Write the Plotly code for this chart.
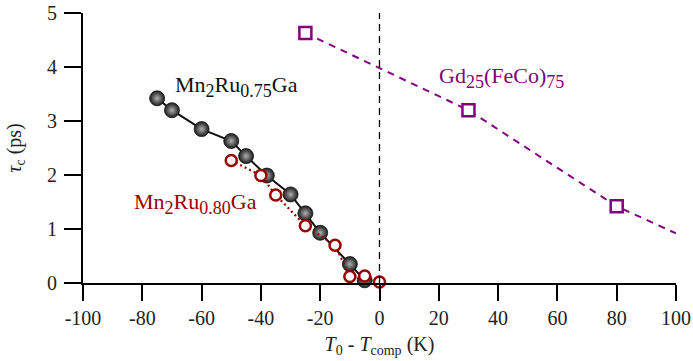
import plotly.graph_objects as go

# Mn2Ru0.75Ga (black spheres)
x_075 = [-75, -70, -60, -50, -45, -38, -30, -25, -20, -10, -5]
y_075 = [3.42, 3.20, 2.85, 2.63, 2.35, 1.99, 1.64, 1.29, 0.93, 0.35, 0.05]

# Mn2Ru0.80Ga (red open circles)
x_080 = [-50, -40, -35, -25, -15, -10, -5, 0]
y_080 = [2.27, 1.99, 1.63, 1.06, 0.70, 0.12, 0.13, 0.02]

# Gd25(FeCo)75 (purple squares)
x_gd = [-25, 30, 80]
y_gd = [4.63, 3.20, 1.42]
# dashed guide line through the squares, extended to the edge
x_gd_line = [-25, 30, 80, 100]
y_gd_line = [4.63, 3.20, 1.42, 0.92]

x_ticks = [-100, -80, -60, -40, -20, 0, 20, 40, 60, 80, 100]
y_ticks = [0, 1, 2, 3, 4, 5]

BLACK = "#111111"
RED = "#990000"
PURPLE = "#800080"
FONT = "'Liberation Serif', 'Times New Roman', Times, 'DejaVu Serif', serif"


def sub(s, px=18):
    return "<sub><span style='font-size:%dpx'>%s</span></sub>" % (px, s)


fig = go.Figure()

# vertical dashed line at compensation
fig.add_shape(type="line", x0=0, x1=0, y0=0, y1=5, xref="x", yref="y",
              line=dict(color="black", width=1.3, dash="7px,5px"))

fig.add_trace(go.Scatter(x=x_gd_line, y=y_gd_line, mode="lines",
                         line=dict(color=PURPLE, width=2, dash="7px,6px"),
                         hoverinfo="skip", showlegend=False, cliponaxis=False))
fig.add_trace(go.Scatter(x=x_gd, y=y_gd, mode="markers",
                         marker=dict(symbol="square", size=12, color="white",
                                     line=dict(color=PURPLE, width=2.5)),
                         showlegend=False, cliponaxis=False))

fig.add_trace(go.Scatter(x=x_075, y=y_075, mode="lines+markers",
                         line=dict(color=BLACK, width=2),
                         marker=dict(symbol="circle", size=15, color="#1a1a1a",
                                     gradient=dict(type="radial", color="#b0b0b0"),
                                     line=dict(color="#111111", width=0.8)),
                         showlegend=False, cliponaxis=False))

fig.add_trace(go.Scatter(x=x_080, y=y_080, mode="lines+markers",
                         line=dict(color=RED, width=2.2, dash="2px,3px"),
                         marker=dict(symbol="circle", size=11, color="white",
                                     line=dict(color=RED, width=2.5)),
                         showlegend=False, cliponaxis=False))

fig.add_annotation(x=-69.6, y=3.64, xref="x", yref="y", xanchor="left", yanchor="middle",
                   text="Mn" + sub("2") + "Ru" + sub("0.75") + "Ga", showarrow=False,
                   font=dict(family=FONT, size=22, color=BLACK))
fig.add_annotation(x=-83.6, y=1.47, xref="x", yref="y", xanchor="left", yanchor="middle",
                   text="Mn" + sub("2") + "Ru" + sub("0.80") + "Ga", showarrow=False,
                   font=dict(family=FONT, size=22, color=RED))
fig.add_annotation(x=19.3, y=3.8, xref="x", yref="y", xanchor="left", yanchor="middle",
                   text="Gd" + sub("25") + "(FeCo)" + sub("75"), showarrow=False,
                   font=dict(family=FONT, size=22, color=PURPLE))

fig.update_layout(
    width=693, height=361,
    margin=dict(l=82.5, r=17, t=13.3, b=77.7),
    plot_bgcolor="white", paper_bgcolor="white",
    font=dict(family=FONT, size=20, color="#222222"),
    xaxis=dict(range=[-100, 100], tickvals=x_ticks, ticktext=[str(v) for v in x_ticks],
               automargin=False, ticklabeloverflow="allow",
               showgrid=False, zeroline=False, showline=True, linecolor="black", linewidth=2,
               ticks="outside", ticklen=16, tickwidth=1.8, tickcolor="black",
               tickfont=dict(family=FONT, size=20, color="#222222"),
               title=dict(text="<i>T</i><sub>0</sub> - <i>T</i><sub>comp</sub> (K)",
                          font=dict(family=FONT, size=20, color="#222222"), standoff=9)),
    yaxis=dict(range=[0, 5], tickvals=y_ticks, ticktext=[str(v) for v in y_ticks],
               automargin=False, ticklabelstandoff=3, ticklabeloverflow="allow",
               showgrid=False, zeroline=False, showline=True, linecolor="black", linewidth=2,
               ticks="outside", ticklen=17, tickwidth=1.8, tickcolor="black",
               tickfont=dict(family=FONT, size=20, color="#222222"),
               title=dict(text="<i>τ</i><sub>c</sub> (ps)",
                          font=dict(family=FONT, size=20, color="#222222"), standoff=20)),
)

# remove the browser's default 8px body margin so the figure fills the window
fig.write_html("out.html", config={"displayModeBar": False},
               post_script="document.body.style.margin='0px';")
